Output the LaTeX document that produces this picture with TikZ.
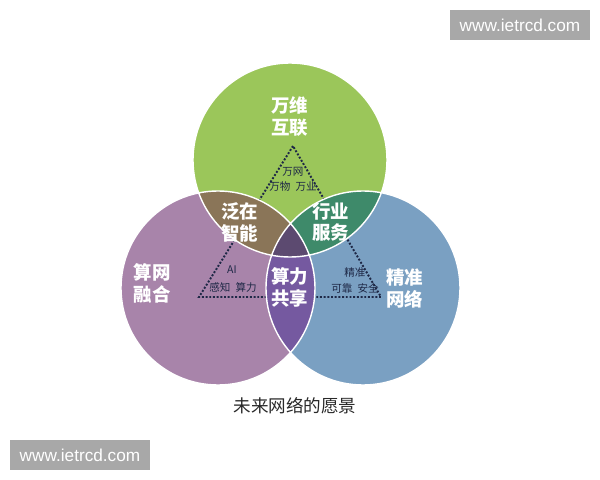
\documentclass[tikz,border=0pt]{standalone}
\usepackage{fontspec}
\setmainfont{Noto Sans CJK SC}
\newfontfamily\wmfont{Liberation Sans}
\usetikzlibrary{positioning, calc}
\definecolor{webgreen}{RGB}{155, 198, 90}
\definecolor{netpurple}{RGB}{168, 132, 170}
\definecolor{netblue}{RGB}{122, 160, 194}
\definecolor{gpmix}{RGB}{138, 117, 88}
\definecolor{gbmix}{RGB}{62, 138, 106}
\definecolor{pbmix}{RGB}{117, 89, 160}
\definecolor{allmix}{RGB}{92, 74, 112}
\definecolor{dotnavy}{RGB}{30, 40, 70}
\definecolor{capgray}{RGB}{40, 40, 40}
\definecolor{wmgray}{RGB}{168, 168, 168}

\tikzset{
    bigtxt/.style={white, font=\bfseries\fontsize{10.5}{12.5}\selectfont, align=center},
    smalltxt/.style={dotnavy, font=\fontsize{6}{7}\selectfont, align=center},
    wmbox/.style={fill=wmgray, text=white, font=\wmfont\fontsize{9.8}{11}\selectfont, minimum width=140*0.02cm, minimum height=30*0.02cm, inner sep=0pt}
}

\begin{document}
\begin{tikzpicture}[x=0.02cm, y=-0.02cm]
        \useasboundingbox (0,0) rectangle (600,480);
        \fill[white] (0,0) rectangle (600,480);
        % Circle centres
        \coordinate (webc) at (290,160);
        \coordinate (cnc) at (218,288);
        \coordinate (pnc) at (363,288);
        \def\rad{97}
        % Base circles
        \fill[netpurple] (cnc) circle (\rad);
        \fill[netblue] (pnc) circle (\rad);
        \fill[webgreen] (webc) circle (\rad);
        % Dotted triangle
        \coordinate (apex) at (293,146);
        \coordinate (leftc) at (199,297);
        \coordinate (rightc) at (381,297);
        \draw[dotnavy, densely dotted, line width=1.1pt] (apex) -- (leftc) -- (rightc) -- cycle;
        % Overlaps
        \begin{scope}
            \clip (webc) circle (\rad);
            \fill[gpmix] (cnc) circle (\rad);
            \fill[gbmix] (pnc) circle (\rad);
        \end{scope}
        \begin{scope}
            \clip (cnc) circle (\rad);
            \fill[pbmix] (pnc) circle (\rad);
            \clip (pnc) circle (\rad);
            \fill[allmix] (webc) circle (\rad);
        \end{scope}
        % White rims
        \draw[white, line width=0.8pt] (webc) circle (\rad) (cnc) circle (\rad) (pnc) circle (\rad);
        % Big labels
        \node[bigtxt] (web) at (290,117) {万维\\互联};
        \node[bigtxt] (ubiq) at (240,222) {泛在\\智能};
        \node[bigtxt] (trade) at (331,222) {行业\\服务};
        \node[bigtxt] (cnet) at (152,283) {算网\\融合};
        \node[bigtxt] (share) at (290,287) {算力\\共享};
        \node[bigtxt] (pnet) at (405,288) {精准\\网络};
        % Small labels
        \node[smalltxt] (webtop) at (293,172) {万网};
        \node[smalltxt] (webbot) at (293,187) {万物\hspace{3pt}万业};
        \node[smalltxt] (aitop) at (232,270) {AI};
        \node[smalltxt] (aibot) at (233,287) {感知\hspace{3pt}算力};
        \node[smalltxt] (pntop) at (355,272) {精准};
        \node[smalltxt] (pnbot) at (355,288) {可靠\hspace{3pt}安全};
        % Caption
        \node[capgray, font=\fontsize{10}{11}\selectfont] (caption) at (295,406) {未来网络的愿景};
        % Watermarks
        \node[wmbox] (wmtop) at (520,25) {www.ietrcd.com};
        \node[wmbox] (wmbot) at (80,455) {www.ietrcd.com};
    \end{tikzpicture}
\end{document}
